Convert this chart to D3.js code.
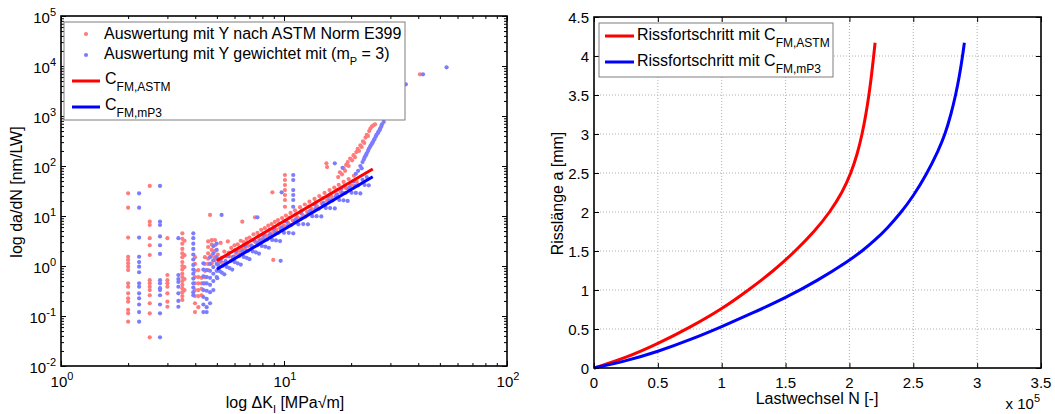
<!DOCTYPE html>
<html><head><meta charset="utf-8">
<script src="https://cdn.jsdelivr.net/npm/d3@7"></script>
<style>
body{margin:0;background:#fff}
svg{display:block}
text{font-family:"Liberation Sans",Arial,sans-serif;fill:#000}
</style></head><body>
<svg id="c" width="1055" height="414"></svg>
<script>
// ---------- LEFT CHART DATA: [ΔK (MPa√m), da/dN (nm/LW)] ----------
const astmPoints = [
 [2.0,28.4],[2.0,14.7],[2.0,3.7],[2.0,1.53],[2.0,1.32],[2.0,1.13],[2.0,0.97],[2.0,0.83],[2.0,0.45],[2.0,0.385],[2.0,0.284],[2.0,0.226],[2.0,0.193],[2.0,0.132],[2.0,0.113],[2.0,0.077],
 [2.5,40],[2.5,7.7],[2.5,6.6],[2.5,3.6],[2.5,2.6],[2.5,1.66],[2.5,0.52],[2.5,0.45],[2.5,0.385],[2.5,0.33],[2.5,0.26],[2.5,0.18],[2.5,0.113],[2.5,0.0375],
 [3.0,3.6],[3.0,0.66],[3.0,0.52],[3.0,0.45],[3.0,0.385],[3.0,0.284],[3.0,0.193],[3.0,0.153],
 [3.5,4.5],[3.5,3.5],[3.5,2.8],[3.5,2.2],[3.5,1.8],[3.5,1.5],[3.5,1.2],[3.5,1.0],[3.5,0.85],[3.5,0.7],[3.5,0.6],[3.5,0.5],[3.5,0.42],[3.5,0.36],[3.5,0.3],[3.5,0.25],[3.5,0.21],
 [3.58,3.2],[3.58,1.65],[3.58,0.95],[3.58,0.55],[3.58,0.33],
 [3.99,1.5],[3.99,1.1],[3.99,0.8],[3.99,0.6],[3.99,0.45],[3.99,0.33],[3.99,0.25],[3.99,0.18],[3.99,0.12],
 [4.13,0.83],[4.13,0.6],[4.13,0.45],[4.13,0.33],[4.13,0.25],[4.13,0.15],
 [4.27,0.58],[4.27,0.45],[4.27,0.35],[4.27,0.26],
 [4.42,1.5],[4.42,1.1],[4.42,0.8],[4.42,0.6],[4.42,0.45],
 [4.57,3.1],[4.57,2.4],[4.57,1.8],[4.57,1.4],[4.57,1.1],[4.57,0.83],
 [4.74,3.3],[4.74,2.7],[4.74,2.1],[4.74,1.6],[4.74,1.13],
 [4.9,3.3],[4.9,2.6],[4.9,2.0],[4.9,1.5],[4.9,1.3],[4.66,10.5],
 [5.05,1.7],[5.15,1.2],[5.2,2.9],[5.3,1.15],[5.4,1.95],[5.5,1.55],[5.6,3.1],[5.7,1.55],[5.8,2.3],[5.9,1.5],
 [6.0,2.6],[6.1,1.75],[6.2,2.7],[6.3,2.0],[6.4,3.2],[6.5,2.1],[6.6,3.0],[6.7,2.2],[6.8,3.5],[6.9,2.5],
 [7.0,3.7],[7.15,2.6],[7.3,4.3],[7.45,3.0],[7.6,4.6],[7.75,3.3],[7.9,5.3],[8.05,3.6],[8.2,5.7],[8.35,4.0],
 [8.5,6.4],[8.65,4.4],[8.8,6.9],[8.95,4.8],[9.1,7.6],[9.25,5.3],[9.4,8.3],[9.6,5.8],[9.8,9.1],[10.0,6.4],
 [10.2,10.2],[10.45,7.2],[10.7,11.5],[10.95,8.1],[11.2,13],[11.5,9.4],[11.8,15],[12.1,10.6],[12.4,17],[12.7,12],
 [13.0,19.3],[13.35,13.8],[13.7,22],[14.05,15.8],[14.4,25],[14.8,18],[15.2,29],[15.6,20.5],[16.0,33],[16.4,24],
 [16.8,37],[17.2,27],[17.6,42],[18.0,30],[18.5,48],[19.0,36],[19.5,55],[20.0,41],[20.6,64],[21.2,48],
 [5.25,1.45],[5.65,1.85],[6.05,2.1],[6.45,2.4],[6.85,2.95],[7.25,3.3],[7.7,3.95],[8.1,4.5],[8.6,5.3],[9.05,6.0],
 [9.5,7.0],[10.1,8.0],[10.6,9.3],[11.3,10.8],[12.0,12.8],[12.9,15.5],[13.9,18.8],[14.9,22.5],[16.2,27.5],[17.4,33.5],[18.7,40],
 [6.5,7.7],[7.41,9.4],[8.87,29.8],[8.95,1.32],
 [10.1,66],[10.1,52.5],[10.1,41.7],[10.1,33],[10.1,26.3],[10.1,20.9],[10.1,15.3],
 [15.5,113],[15.6,95],[17.5,60],[17.8,75],[18.2,68],[18.5,90],[18.8,80],[19.0,105],[19.3,120],[19.5,100],[19.8,140],
 [20.2,130],[20.5,165],[20.8,150],[21.1,190],[21.4,220],[21.7,200],[22.0,260],[22.3,240],[22.6,310],[22.9,290],
 [23.2,370],[23.5,420],[23.8,400],[24.1,500],[24.4,560],[24.8,620],[25.2,650],[25.6,680],[40.7,6820]
];
const mp3Points = [
 [2.24,28.4],[2.24,14.7],[2.24,3.7],[2.24,1.53],[2.24,1.2],[2.24,0.97],[2.24,0.75],[2.24,0.45],[2.24,0.385],[2.24,0.284],[2.24,0.226],[2.24,0.17],[2.24,0.12],[2.24,0.077],
 [2.78,40],[2.78,7.7],[2.78,6.6],[2.78,3.9],[2.78,2.6],[2.78,1.75],[2.78,0.52],[2.78,0.45],[2.78,0.36],[2.78,0.33],[2.78,0.26],[2.78,0.17],[2.78,0.113],[2.78,0.0375],
 [3.36,3.6],[3.36,0.66],[3.36,0.55],[3.36,0.48],[3.36,0.385],[3.36,0.284],[3.36,0.2],[3.36,0.153],
 [3.92,4.5],[3.92,3.6],[3.92,2.8],[3.92,2.2],[3.92,1.7],[3.92,1.35],[3.92,1.05],[3.92,0.85],[3.92,0.7],[3.92,0.56],[3.92,0.45],[3.92,0.37],[3.92,0.3],[3.92,0.26],
 [4.35,1.13],[4.35,0.85],[4.35,0.62],[4.35,0.45],[4.35,0.33],[4.35,0.24],[4.35,0.17],[4.35,0.12],
 [4.5,0.83],[4.5,0.6],[4.5,0.45],[4.5,0.32],[4.5,0.22],[4.5,0.15],[4.5,0.12],
 [4.66,1.5],[4.66,1.1],[4.66,0.8],[4.66,0.58],[4.66,0.42],[4.66,0.3],[4.66,0.18],
 [4.82,2.5],[4.82,1.8],[4.82,1.3],[4.82,0.95],[4.82,0.7],[4.82,0.5],[4.82,0.33],
 [4.99,2.8],[4.99,2.1],[4.99,1.5],[4.99,1.1],[4.99,0.8],[4.99,0.6],[5.25,10.5],
 [5.02,0.57],[5.08,1.03],[5.14,0.79],[5.2,1.28],[5.26,0.74],[5.32,1.01],[5.4,0.68],[5.47,1.25],[5.54,0.96],[5.62,1.58],
 [5.7,0.91],[5.78,1.26],[5.86,0.85],[5.94,1.55],[6.02,1.19],[6.1,1.96],[6.2,1.13],[6.3,1.58],[6.4,1.07],[6.5,1.98],
 [6.6,1.52],[6.7,2.52],[6.8,1.46],[6.9,2.02],[7.0,1.37],[7.12,2.53],[7.24,1.96],[7.36,3.24],[7.48,1.88],[7.6,2.61],
 [7.72,1.77],[7.84,3.25],[7.96,2.51],[8.1,4.17],[8.25,2.43],[8.4,3.4],[8.55,2.32],[8.7,4.3],[8.85,3.32],[9.0,5.5],
 [9.2,3.25],[9.4,4.58],[9.6,3.15],[9.8,5.9],[10.0,4.6],[10.25,7.8],[10.5,4.6],[10.75,6.54],[11.0,4.5],[11.3,8.6],
 [11.6,6.8],[11.9,11.6],[12.2,6.9],[12.5,9.8],[12.8,6.8],[13.1,12.7],[13.4,9.9],[13.7,16.9],[14.0,9.9],[14.35,14.1],
 [14.7,9.8],[15.05,18.4],[15.4,14.5],[15.75,24.3],[16.1,14.4],[16.5,20.5],[16.9,14.2],[17.3,26.7],[17.7,20.9],[18.1,35],
 [18.5,20.6],[18.9,29.1],[19.3,20],[19.7,37.4],[20.1,29.2],[20.5,48.9],[21.0,29],[21.5,41.1],[22.0,28.3],[22.5,53],
 [23.0,41.7],[23.5,60],[24.0,41],
 [5.11,0.95],[5.5,1.15],[5.9,1.45],[6.35,1.7],[6.75,2.0],[7.2,2.45],[7.65,2.9],[8.15,3.4],[8.65,3.9],[9.15,4.6],
 [9.7,5.4],[10.4,6.3],[11.15,7.6],[11.95,9.0],[12.9,11.2],[13.9,14],[14.9,16.8],[16.0,20.5],[17.1,24.5],[18.3,29],[19.5,34],[20.8,40],
 [7.6,9.4],[9.66,1.27],[9.76,29.8],
 [11.0,66],[11.0,52.5],[11.0,33],[11.0,26.3],[11.0,20.9],[11.0,15.3],
 [16.9,113],[18.3,92],
 [21.0,70],[21.5,80],[22,100],[22.3,90],[22.5,120],[22.8,135],[23,150],[23.3,165],[23.5,180],[23.8,200],
 [24,220],[24.3,240],[24.5,260],[24.8,280],[25,300],[25.3,330],[25.5,350],[25.8,390],[26,420],[26.3,450],
 [26.5,480],[26.8,520],[27,560],[27.3,620],[27.5,680],[28,760],[35.2,4300],[42,6820],[53.6,9400]
];
const fitK = [5, 25];
const fitAstmRate = [1.28, 87];
const fitMp3Rate = [0.86, 61];
const leftXDecades = [1, 10, 100];
const leftXExp = ["0", "1", "2"];
const leftYDecades = [0.01, 0.1, 1, 10, 100, 1000, 10000, 100000];
const leftYExp = ["-2", "-1", "0", "1", "2", "3", "4", "5"];

// ---------- RIGHT CHART DATA ----------
const cyclesAstm = [0, 25000, 50000, 75000, 100000, 121000, 141000, 157700, 172600, 184800, 194400, 201300, 206300, 210000, 212900, 215300, 217300, 219000, 220100];
const crackAstm  = [0, 0.13, 0.31, 0.52, 0.755, 1.0, 1.25, 1.5, 1.75, 2.0, 2.25, 2.5, 2.75, 3.0, 3.25, 3.5, 3.75, 4.0, 4.17];
const cyclesMp3 = [0, 25000, 50000, 75000, 100000, 125000, 150000, 175000, 200000, 210000, 220000, 230000, 240000, 250000, 260000, 270000, 275000, 279500, 283200, 286200, 288600, 290000];
const crackMp3  = [0, 0.09, 0.21, 0.36, 0.53, 0.71, 0.9, 1.12, 1.38, 1.50, 1.638, 1.798, 1.984, 2.204, 2.469, 2.799, 3.0, 3.25, 3.5, 3.75, 4.0, 4.17];
const rightXTicks = [0, 50000, 100000, 150000, 200000, 250000, 300000, 350000];
const rightXLabels = ["0", "0.5", "1", "1.5", "2", "2.5", "3", "3.5"];
const rightYTicks = [0, 0.5, 1, 1.5, 2, 2.5, 3, 3.5, 4, 4.5];
const rightYLabels = ["0", "0.5", "1", "1.5", "2", "2.5", "3", "3.5", "4", "4.5"];

const RED = "#ff0000", BLUE = "#0000ff";
const RED_PT = "#ff7c7c", BLUE_PT = "#7c7cff";

const svg = d3.select("#c");
svg.append("rect").attr("width",1055).attr("height",414).attr("fill","#fff");

function styleAxis(g){
  g.select(".domain").remove();
  g.selectAll(".tick line").attr("stroke","#000").attr("stroke-width",1);
  g.selectAll(".tick text").remove();
}

// ================= LEFT CHART =================
const L = {x0:61, x1:507, y0:16, y1:366};
const xL = d3.scaleLog().domain([1,100]).range([L.x0,L.x1]);
const yL = d3.scaleLog().domain([0.01,1e5]).range([L.y1,L.y0]);
const gL = svg.append("g");

gL.selectAll("circle.astm").data(astmPoints).join("circle").attr("class","astm")
  .attr("cx",d=>xL(d[0])).attr("cy",d=>yL(d[1])).attr("r",2.1).attr("fill",RED_PT);
gL.selectAll("circle.mp3").data(mp3Points).join("circle").attr("class","mp3")
  .attr("cx",d=>xL(d[0])).attr("cy",d=>yL(d[1])).attr("r",2.1).attr("fill",BLUE_PT);

const fitLine = d3.line().x(d=>xL(d[0])).y(d=>yL(d[1]));
gL.append("path").datum(fitK.map((k,i)=>[k,fitAstmRate[i]])).attr("d",fitLine).attr("stroke",RED).attr("stroke-width",3).attr("fill","none");
gL.append("path").datum(fitK.map((k,i)=>[k,fitMp3Rate[i]])).attr("d",fitLine).attr("stroke",BLUE).attr("stroke-width",3).attr("fill","none");

const xMinor = xL.ticks(), yMinor = yL.ticks();
[[d3.axisBottom(xL),`translate(0,${L.y1})`,xMinor,3],[d3.axisBottom(xL),`translate(0,${L.y1})`,leftXDecades,5],
 [d3.axisTop(xL),`translate(0,${L.y0})`,xMinor,3],[d3.axisTop(xL),`translate(0,${L.y0})`,leftXDecades,5],
 [d3.axisLeft(yL),`translate(${L.x0},0)`,yMinor,3],[d3.axisLeft(yL),`translate(${L.x0},0)`,leftYDecades,5],
 [d3.axisRight(yL),`translate(${L.x1},0)`,yMinor,3],[d3.axisRight(yL),`translate(${L.x1},0)`,leftYDecades,5]].forEach(([ax,tr,vals,len])=>{
  styleAxis(gL.append("g").attr("transform",tr).call(ax.tickValues(vals).tickSize(-len).tickFormat("")));
});
gL.append("rect").attr("x",L.x0).attr("y",L.y0).attr("width",L.x1-L.x0).attr("height",L.y1-L.y0)
  .attr("fill","none").attr("stroke","#000").attr("stroke-width",1.6);

function powLabel(g,x,y,exp,anchor){
  const t = g.append("text").attr("x",x).attr("y",y).attr("text-anchor",anchor).style("font-size","15px");
  t.append("tspan").text("10");
  t.append("tspan").attr("dy",-7).style("font-size","11px").text(exp);
}
leftXDecades.forEach((v,i)=>powLabel(gL,xL(v)+1,387,leftXExp[i],"middle"));
leftYDecades.forEach((v,i)=>powLabel(gL,L.x0-5,yL(v)+6.5,leftYExp[i],"end"));

{
  const t = gL.append("text").attr("x",285).attr("y",408).attr("text-anchor","middle").style("font-size","16px");
  t.append("tspan").text("log \u0394K");
  t.append("tspan").attr("dy",5).style("font-size","11px").text("I");
  t.append("tspan").attr("dy",-5).text(" [MPa\u221Am]");
  gL.append("text").attr("transform","translate(22,192) rotate(-90)").attr("text-anchor","middle")
    .style("font-size","16px").text("log da/dN [nm/LW]");
}

{
  const lg = gL.append("g");
  lg.append("rect").attr("x",64).attr("y",22).attr("width",341).attr("height",98).attr("fill","#fff").attr("stroke","#7f7f7f").attr("stroke-width",1);
  lg.append("circle").attr("cx",86).attr("cy",34).attr("r",2.1).attr("fill",RED_PT);
  lg.append("circle").attr("cx",86).attr("cy",55).attr("r",2.1).attr("fill",BLUE_PT);
  lg.append("text").attr("x",104).attr("y",39).style("font-size","16px").text("Auswertung mit Y nach ASTM Norm E399");
  const t2 = lg.append("text").attr("x",104).attr("y",59).style("font-size","16px");
  t2.append("tspan").text("Auswertung mit Y gewichtet mit (m");
  t2.append("tspan").attr("dy",6).style("font-size","11px").text("P");
  t2.append("tspan").attr("dy",-6).text(" = 3)");
  [[81,RED,"FM,ASTM"],[107,BLUE,"FM,mP3"]].forEach(([y,c,s])=>{
    lg.append("line").attr("x1",72).attr("x2",100).attr("y1",y).attr("y2",y).attr("stroke",c).attr("stroke-width",3);
    const t = lg.append("text").attr("x",105).attr("y",y+3).style("font-size","16px");
    t.append("tspan").text("C");
    t.append("tspan").attr("dy",7).style("font-size","12px").text(s);
  });
}

// ================= RIGHT CHART =================
const R = {x0:594, x1:1041, y0:17, y1:368};
const xR = d3.scaleLinear().domain([0,350000]).range([R.x0,R.x1]);
const yR = d3.scaleLinear().domain([0,4.5]).range([R.y1,R.y0]);
const gR = svg.append("g");

gR.selectAll("line.gx").data(rightXTicks.slice(1,-1)).join("line").attr("class","gx")
  .attr("x1",d=>xR(d)).attr("x2",d=>xR(d)).attr("y1",R.y0).attr("y2",R.y1)
  .attr("stroke","#b0b0b0").attr("stroke-width",1).attr("stroke-dasharray","1,2");
gR.selectAll("line.gy").data(rightYTicks.slice(1,-1)).join("line").attr("class","gy")
  .attr("y1",d=>yR(d)).attr("y2",d=>yR(d)).attr("x1",R.x0).attr("x2",R.x1)
  .attr("stroke","#b0b0b0").attr("stroke-width",1).attr("stroke-dasharray","1,2");

[[d3.axisBottom(xR),`translate(0,${R.y1})`,rightXTicks],[d3.axisTop(xR),`translate(0,${R.y0})`,rightXTicks],
 [d3.axisLeft(yR),`translate(${R.x0},0)`,rightYTicks],[d3.axisRight(yR),`translate(${R.x1},0)`,rightYTicks]].forEach(([ax,tr,vals])=>{
  styleAxis(gR.append("g").attr("transform",tr).call(ax.tickValues(vals).tickSize(-5).tickFormat("")));
});

const curve = d3.line().x(d=>xR(d[0])).y(d=>yR(d[1])).curve(d3.curveBasis);
gR.append("path").datum(cyclesAstm.map((n,i)=>[n,crackAstm[i]])).attr("d",curve).attr("fill","none").attr("stroke",RED).attr("stroke-width",3);
gR.append("path").datum(cyclesMp3.map((n,i)=>[n,crackMp3[i]])).attr("d",curve).attr("fill","none").attr("stroke",BLUE).attr("stroke-width",3);

gR.append("rect").attr("x",R.x0).attr("y",R.y0).attr("width",R.x1-R.x0).attr("height",R.y1-R.y0)
  .attr("fill","none").attr("stroke","#000").attr("stroke-width",1.6);

rightXTicks.forEach((v,i)=>gR.append("text").attr("x",xR(v)).attr("y",388).attr("text-anchor","middle").style("font-size","15px").text(rightXLabels[i]));
rightYTicks.forEach((v,i)=>gR.append("text").attr("x",R.x0-5).attr("y",yR(v)+5.5).attr("text-anchor","end").style("font-size","15px").text(rightYLabels[i]));
{
  const t = gR.append("text").attr("x",1040).attr("y",409).attr("text-anchor","end").style("font-size","15px");
  t.append("tspan").text("x 10");
  t.append("tspan").attr("dy",-7).style("font-size","11px").text("5");
}
gR.append("text").attr("x",817).attr("y",404).attr("text-anchor","middle").style("font-size","16px").text("Lastwechsel N [-]");
gR.append("text").attr("transform","translate(563,193.5) rotate(-90)").attr("text-anchor","middle").style("font-size","16px").text("Risslänge a [mm]");

{
  const lg = gR.append("g");
  lg.append("rect").attr("x",599).attr("y",23).attr("width",234).attr("height",54).attr("fill","#fff").attr("stroke","#7f7f7f").attr("stroke-width",1);
  [[36,RED,"FM,ASTM"],[62,BLUE,"FM,mP3"]].forEach(([y,c,s])=>{
    lg.append("line").attr("x1",605).attr("x2",634).attr("y1",y).attr("y2",y).attr("stroke",c).attr("stroke-width",3);
    const t = lg.append("text").attr("x",637).attr("y",y+3.5).style("font-size","16px");
    t.append("tspan").text("Rissfortschritt mit C");
    t.append("tspan").attr("dy",7).style("font-size","12px").text(s);
  });
}
</script>
</body></html>
